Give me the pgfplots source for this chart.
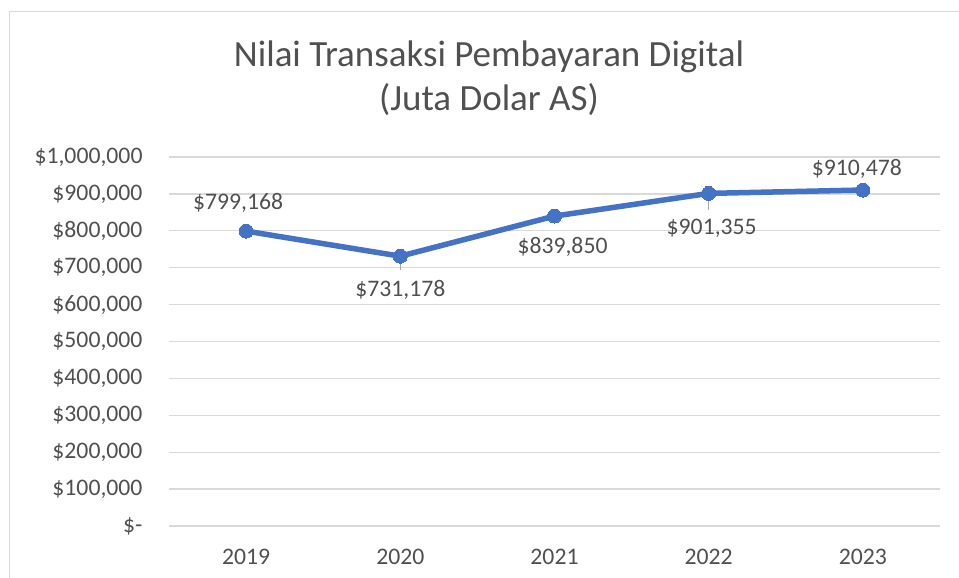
\documentclass[border=0pt]{standalone}
\usepackage{pgfplots}
\usepackage{pgfplotstable}
\pgfplotsset{compat=1.18}
\usepackage{fontspec}
\setmainfont{Carlito}
\definecolor{excelblue}{HTML}{4472C4}
\definecolor{gridgray}{HTML}{D9D9D9}
\definecolor{txtgray}{HTML}{505050}
\definecolor{leadgray}{HTML}{A6A6A6}

\pgfplotstableread{
x y dx dy lab
0 799168 -8 28 \$799,168
1 731178 0 -34 \$731,178
2 839850 8 -31 \$839,850
3 901355 3 -35 \$901,355
4 910478 -6 21 \$910,478
}\datatable

\begin{document}
\begin{tikzpicture}[x=1pt,y=1pt]
\useasboundingbox (0,0) rectangle (959,578);
\draw[gridgray, line width=1pt] (9,-5) -- (9,566) -- (965,566);
\node[anchor=base, text=txtgray, font=\fontsize{37}{40}\selectfont] at (489,511) {Nilai Transaksi Pembayaran Digital};
\node[anchor=base, text=txtgray, font=\fontsize{37}{40}\selectfont] at (489,467) {(Juta Dolar AS)};
\begin{axis}[
  at={(169pt,52pt)}, anchor=south west,
  scale only axis, width=771pt, height=369pt,
  xmin=-0.5, xmax=4.5, ymin=0, ymax=1000000,
  xtick={0,1,2,3,4}, xticklabels={2019,2020,2021,2022,2023},
  ytick={0,100000,200000,300000,400000,500000,600000,700000,800000,900000,1000000},
  yticklabels={{\$-},{\$100,000},{\$200,000},{\$300,000},{\$400,000},{\$500,000},{\$600,000},{\$700,000},{\$800,000},{\$900,000},{\$1,000,000}},
  major tick length=0pt,
  axis line style={draw=none},
  ymajorgrids, grid style={gridgray, line width=1.3pt},
  tick label style={text=txtgray, font=\fontsize{23.7}{27}\selectfont},
  yticklabel style={xshift=-23pt},
  xticklabel style={yshift=-20pt},
  clip=false,
  scaled y ticks=false,
]
\addplot[leadgray, line width=1pt] coordinates {(1,731178) (1,693766)};
\addplot[leadgray, line width=1pt] coordinates {(3,901355) (3,856369)};
\addplot[excelblue, line width=5.5pt, mark=*, mark size=7pt,
  mark options={fill=excelblue, draw=excelblue, line width=0pt},
  visualization depends on={\thisrow{dx}\as\dx},
  visualization depends on={\thisrow{dy}\as\dy},
  point meta=explicit symbolic,
  nodes near coords,
  every node near coord/.append style={anchor=center, xshift=\dx pt, yshift=\dy pt, text=txtgray, font=\fontsize{23.7}{27}\selectfont},
] table[x=x, y=y, meta=lab] {\datatable};
\end{axis}
\end{tikzpicture}
\end{document}
